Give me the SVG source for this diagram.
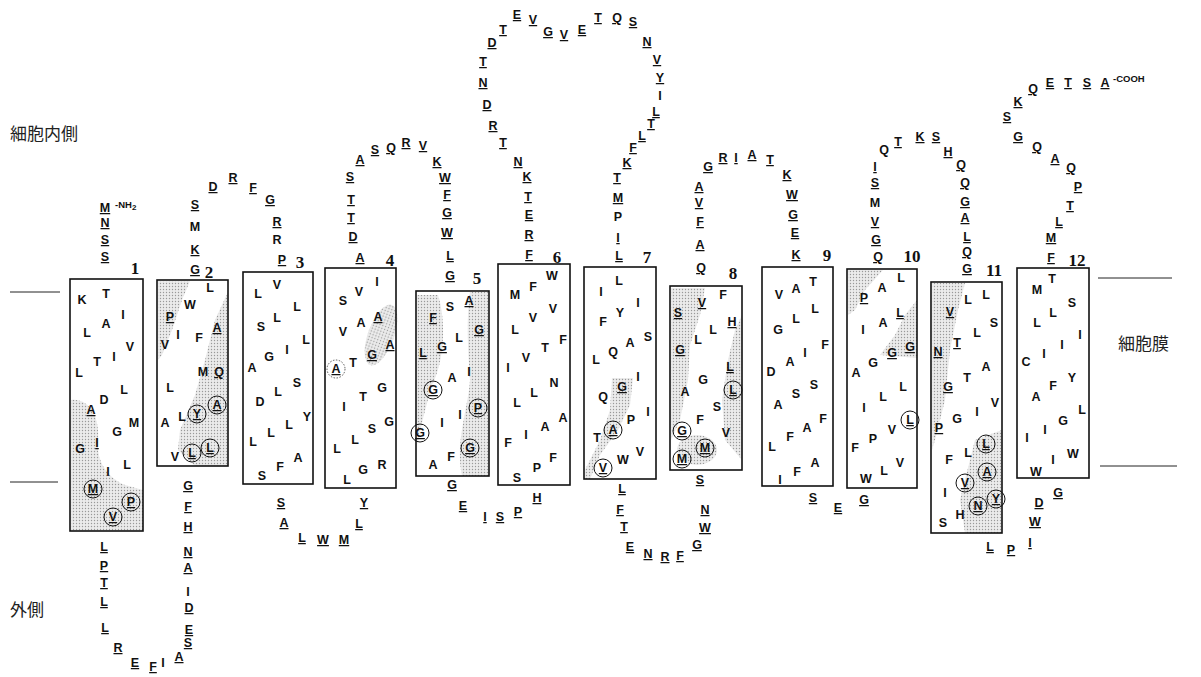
<svg xmlns="http://www.w3.org/2000/svg" width="1201" height="677" viewBox="0 0 1201 677">
<style>
.a{font-family:"Liberation Sans",Arial,sans-serif;font-size:12.5px;font-weight:bold;text-anchor:middle;fill:#111}
.u{text-decoration:underline}
.n{font-family:"Liberation Serif","Times New Roman",serif;font-size:17px;font-weight:bold;text-anchor:middle;fill:#111}
.s{font-family:"Liberation Sans",Arial,sans-serif;font-size:9.5px;font-weight:bold;fill:#111}
.j{font-family:"Noto Sans CJK JP","Noto Sans CJK SC",sans-serif;font-size:17px;fill:#222}
.box{fill:none;stroke:#111;stroke-width:1.6}
.c{fill:none;stroke:#111;stroke-width:1}
.cd{fill:none;stroke:#555;stroke-width:1;stroke-dasharray:1.5 1.5}
.sh{fill:url(#st);stroke:none}
.mem{stroke:#222;stroke-width:1}
</style>
<defs>
<pattern id="st" width="3" height="3" patternUnits="userSpaceOnUse"><rect width="3" height="3" fill="#ebebeb"/><circle cx="1.5" cy="1.5" r="0.7" fill="#999"/></pattern>
</defs>
<rect width="1201" height="677" fill="#fff"/>

<g id="labels">
<text class="j" x="10" y="140">細胞内側</text>
<text class="j" x="1118" y="350">細胞膜</text>
<text class="j" x="10" y="616">外側</text>
</g>

<g id="membrane">
<line class="mem" x1="10" y1="292" x2="60" y2="292"/>
<line class="mem" x1="10" y1="482" x2="58" y2="482"/>
<line class="mem" x1="1098" y1="278" x2="1172" y2="278"/>
<line class="mem" x1="1100" y1="466" x2="1177" y2="466"/>
</g>

<g id="connectors"></g>

<g id="shading">
<path class="sh" d="M71,400 C88,398 100,415 98,440 C96,462 108,478 125,485 L143,490 L143,531 L71,531 Z"/>
<path class="sh" d="M158,281 L190,281 L182,300 L172,330 L162,355 L158,360 Z"/>
<path class="sh" d="M228,292 L215,320 L205,360 L195,395 L180,430 L178,450 L195,466 L228,466 Z"/>
<ellipse class="sh" cx="381" cy="335" rx="13" ry="32" transform="rotate(20 381 335)"/>
<path class="sh" d="M417,295 L438,295 C446,320 445,360 432,385 C425,410 420,430 417,445 Z"/>
<path class="sh" d="M470,292 L489,292 L489,476 L462,476 C455,440 468,410 470,380 C468,350 466,320 470,292 Z"/>
<path class="sh" d="M612,378 L633,378 L630,405 L618,430 L600,455 L590,479 L585,479 L585,470 L600,440 L610,410 Z"/>
<path class="sh" d="M671,288 L705,288 L700,315 L690,345 L688,380 L680,420 L671,440 Z"/>
<path class="sh" d="M742,315 L735,330 L728,360 L722,400 L725,440 L742,460 Z"/>
<ellipse class="sh" cx="697" cy="450" rx="20" ry="15"/>
<path class="sh" d="M848,270 L883,270 L865,290 L855,310 L848,315 Z"/>
<path class="sh" d="M917,300 L905,315 L895,335 L880,355 L917,358 Z"/>
<path class="sh" d="M932,283 L965,283 L958,310 L950,350 L945,400 L935,440 L932,450 Z"/>
<path class="sh" d="M975,440 L1002,430 L1002,533 L965,533 L960,500 Z"/>
</g>

<g id="h1">
<text class="a u" x="105" y="212">M</text><text class="s" x="115" y="208">-NH<tspan font-size="8" dy="2">2</tspan></text>
<text class="a u" x="105" y="227">N</text><text class="a u" x="105" y="244">S</text><text class="a u" x="105" y="261">S</text>
<text class="n" x="135" y="274">1</text>
<rect class="box" x="70" y="279" width="73" height="252"/>
<text class="a" x="82" y="304">K</text><text class="a" x="106" y="298">T</text><text class="a" x="123" y="319">I</text><text class="a" x="106" y="328">A</text><text class="a" x="87" y="337">L</text><text class="a" x="130" y="351">V</text><text class="a" x="97" y="366">T</text><text class="a" x="114" y="361">I</text><text class="a" x="79" y="377">L</text><text class="a" x="124" y="394">L</text><text class="a" x="104" y="404">D</text><text class="a u" x="91" y="414">A</text><text class="a" x="134" y="427">M</text><text class="a" x="117" y="436">G</text><text class="a u" x="97" y="447">I</text><text class="a" x="80" y="453">G</text><text class="a" x="127" y="469">L</text><text class="a" x="108" y="476">I</text>
<text class="a u" x="93" y="493">M</text><circle class="c" cx="93" cy="489" r="9"/>
<text class="a u" x="131" y="506">P</text><circle class="c" cx="131" cy="502" r="9"/>
<text class="a u" x="113" y="521">V</text><circle class="c" cx="113" cy="517" r="9"/>
</g>

<g id="loop1">
<text class="a u" x="104" y="551">L</text><text class="a u" x="104" y="570">P</text><text class="a u" x="104" y="587">T</text><text class="a u" x="104" y="606">L</text><text class="a u" x="105" y="632">L</text><text class="a u" x="118" y="652">R</text><text class="a u" x="135" y="667">E</text><text class="a u" x="153" y="671">F</text><text class="a" x="163" y="667">I</text><text class="a u" x="179" y="661">A</text><text class="a u" x="188" y="647">S</text><text class="a u" x="189" y="634">E</text><text class="a u" x="189" y="612">D</text><text class="a" x="188" y="596">I</text><text class="a u" x="188" y="572">A</text><text class="a u" x="188" y="556">N</text><text class="a u" x="188" y="531">H</text><text class="a u" x="188" y="511">F</text><text class="a u" x="188" y="490">G</text>
</g>

<g id="h2">
<text class="n" x="209" y="278">2</text>
<rect class="box" x="157" y="280" width="71" height="186"/>
<text class="a" x="210" y="292">L</text><text class="a" x="190" y="309">W</text><text class="a u" x="170" y="321">P</text><text class="a u" x="217" y="332">A</text><text class="a" x="178" y="339">I</text><text class="a" x="199" y="342">F</text><text class="a" x="165" y="349">V</text><text class="a" x="203" y="376">M</text><text class="a u" x="219" y="376">Q</text><text class="a" x="170" y="392">L</text><text class="a" x="182" y="421">L</text><text class="a" x="165" y="427">A</text>
<text class="a u" x="197" y="418">Y</text><circle class="c" cx="197" cy="414" r="9"/>
<text class="a u" x="217" y="409">A</text><circle class="c" cx="217" cy="405" r="9"/>
<text class="a" x="175" y="461">V</text>
<text class="a u" x="192" y="457">L</text><circle class="c" cx="192" cy="453" r="9"/>
<text class="a u" x="210" y="452">L</text><circle class="c" cx="210" cy="448" r="9"/>
</g>

<g id="loop2">
<text class="a u" x="195" y="274">G</text><text class="a u" x="195" y="254">K</text><text class="a" x="195" y="231">M</text><text class="a u" x="195" y="209">S</text><text class="a u" x="213" y="191">D</text><text class="a u" x="233" y="182">R</text><text class="a u" x="253" y="192">F</text><text class="a u" x="270" y="204">G</text><text class="a u" x="277" y="226">R</text><text class="a" x="277" y="244">R</text><text class="a u" x="282" y="264">P</text>
</g>

<g id="h3">
<text class="n" x="300" y="268">3</text>
<rect class="box" x="243" y="272" width="70" height="212"/>
<text class="a" x="277" y="289">V</text><text class="a" x="258" y="298">L</text><text class="a" x="297" y="311">L</text><text class="a" x="277" y="322">L</text><text class="a" x="261" y="331">S</text><text class="a" x="306" y="344">L</text><text class="a" x="287" y="354">I</text><text class="a" x="269" y="361">G</text><text class="a" x="252" y="372">A</text><text class="a" x="297" y="387">S</text><text class="a" x="278" y="396">L</text><text class="a" x="260" y="406">D</text><text class="a" x="307" y="421">Y</text><text class="a" x="289" y="429">L</text><text class="a" x="271" y="437">L</text><text class="a" x="253" y="446">L</text><text class="a" x="298" y="462">A</text><text class="a" x="280" y="471">F</text><text class="a" x="262" y="480">S</text>
</g>

<g id="loop3">
<text class="a u" x="281" y="507">S</text><text class="a u" x="284" y="527">A</text><text class="a u" x="302" y="542">L</text><text class="a u" x="323" y="544">W</text><text class="a u" x="344" y="544">M</text><text class="a u" x="359" y="528">L</text><text class="a u" x="364" y="507">Y</text>
</g>

<g id="h4">
<text class="n" x="390" y="266">4</text>
<rect class="box" x="325" y="268" width="71" height="220"/>
<text class="a" x="377" y="286">I</text><text class="a" x="359" y="296">V</text><text class="a" x="343" y="305">S</text><text class="a u" x="378" y="321">A</text><text class="a" x="361" y="327">A</text><text class="a" x="343" y="336">V</text><text class="a u" x="390" y="349">A</text><text class="a u" x="372" y="359">G</text><text class="a" x="353" y="367">T</text>
<text class="a u" x="336" y="373">A</text><circle class="cd" cx="336" cy="369" r="9"/>
<text class="a" x="382" y="392">G</text><text class="a" x="363" y="401">T</text><text class="a" x="344" y="411">I</text><text class="a" x="389" y="426">G</text><text class="a" x="372" y="433">S</text><text class="a" x="355" y="444">L</text><text class="a" x="337" y="453">L</text><text class="a" x="382" y="469">R</text><text class="a" x="363" y="474">G</text><text class="a" x="347" y="484">L</text>
</g>

<g id="loop4">
<text class="a u" x="360" y="262">A</text><text class="a u" x="353" y="241">D</text><text class="a u" x="351" y="222">T</text><text class="a u" x="351" y="204">T</text><text class="a u" x="350" y="181">S</text><text class="a u" x="360" y="164">A</text><text class="a u" x="375" y="154">S</text><text class="a u" x="391" y="152">Q</text><text class="a u" x="406" y="147">R</text><text class="a u" x="423" y="150">V</text><text class="a u" x="437" y="166">K</text><text class="a u" x="445" y="182">W</text><text class="a u" x="447" y="199">F</text><text class="a u" x="447" y="217">G</text><text class="a u" x="447" y="237">W</text><text class="a u" x="450" y="260">L</text><text class="a u" x="450" y="280">G</text>
</g>

<g id="h5">
<text class="n" x="477" y="284">5</text>
<rect class="box" x="416" y="291" width="73" height="185"/>
<text class="a" x="450" y="311">S</text><text class="a u" x="469" y="305">A</text><text class="a u" x="433" y="322">F</text><text class="a u" x="479" y="334">G</text><text class="a" x="459" y="342">L</text><text class="a u" x="442" y="351">G</text><text class="a u" x="423" y="357">L</text><text class="a" x="469" y="376">I</text><text class="a" x="452" y="382">A</text>
<text class="a u" x="433" y="394">G</text><circle class="c" cx="433" cy="390" r="9"/>
<text class="a u" x="478" y="412">P</text><circle class="c" cx="478" cy="408" r="9"/>
<text class="a" x="460" y="419">I</text><text class="a" x="442" y="427">I</text>
<text class="a u" x="420" y="437">G</text><circle class="c" cx="420" cy="433" r="9"/>
<text class="a u" x="470" y="452">G</text><circle class="c" cx="470" cy="448" r="9"/>
<text class="a" x="451" y="461">F</text><text class="a" x="433" y="469">A</text>
</g>

<g id="loop5">
<text class="a u" x="452" y="489">G</text><text class="a u" x="463" y="510">E</text><text class="a u" x="485" y="521">I</text><text class="a u" x="500" y="521">S</text><text class="a u" x="518" y="516">P</text><text class="a u" x="537" y="502">H</text>
</g>

<g id="h6">
<text class="n" x="557" y="263">6</text>
<rect class="box" x="498" y="264" width="72" height="221"/>
<text class="a" x="515" y="299">M</text><text class="a" x="533" y="291">F</text><text class="a" x="552" y="280">W</text><text class="a" x="533" y="322">V</text><text class="a" x="553" y="313">V</text><text class="a" x="515" y="334">L</text><text class="a" x="563" y="344">F</text><text class="a" x="545" y="352">T</text><text class="a" x="526" y="362">V</text><text class="a" x="508" y="372">I</text><text class="a" x="554" y="387">N</text><text class="a" x="534" y="397">L</text><text class="a" x="517" y="407">L</text><text class="a" x="563" y="422">A</text><text class="a" x="545" y="431">A</text><text class="a" x="526" y="439">I</text><text class="a" x="508" y="447">F</text><text class="a" x="553" y="462">F</text><text class="a" x="537" y="472">P</text><text class="a" x="517" y="482">S</text>
</g>

<g id="loop6">
<text class="a u" x="529" y="259">F</text><text class="a u" x="529" y="239">R</text><text class="a u" x="529" y="219">E</text><text class="a u" x="528" y="201">T</text><text class="a u" x="527" y="181">K</text><text class="a u" x="518" y="166">N</text><text class="a u" x="503" y="147">T</text><text class="a u" x="493" y="130">R</text><text class="a u" x="487" y="109">D</text><text class="a u" x="483" y="87">N</text><text class="a u" x="483" y="66">T</text><text class="a u" x="492" y="47">D</text><text class="a u" x="503" y="34">T</text><text class="a u" x="517" y="19">E</text><text class="a u" x="533" y="24">V</text><text class="a u" x="548" y="36">G</text><text class="a u" x="564" y="39">V</text><text class="a u" x="582" y="34">E</text><text class="a u" x="598" y="22">T</text><text class="a u" x="617" y="22">Q</text><text class="a u" x="633" y="26">S</text><text class="a u" x="647" y="46">N</text><text class="a u" x="657" y="64">V</text><text class="a u" x="660" y="82">Y</text><text class="a" x="660" y="100">I</text><text class="a u" x="656" y="116">L</text><text class="a u" x="651" y="128">T</text><text class="a u" x="642" y="140">L</text><text class="a u" x="633" y="152">F</text><text class="a u" x="627" y="167">K</text><text class="a u" x="617" y="182">T</text><text class="a u" x="618" y="202">M</text><text class="a" x="618" y="221">P</text><text class="a u" x="618" y="242">I</text><text class="a u" x="619" y="260">L</text>
</g>

<g id="h7">
<text class="n" x="647" y="263">7</text>
<rect class="box" x="584" y="267" width="72" height="212"/>
<text class="a" x="619" y="285">L</text><text class="a" x="601" y="296">I</text><text class="a" x="638" y="307">I</text><text class="a" x="620" y="317">Y</text><text class="a" x="603" y="326">F</text><text class="a" x="648" y="341">S</text><text class="a" x="630" y="347">A</text><text class="a" x="613" y="356">Q</text><text class="a" x="596" y="364">L</text><text class="a" x="638" y="381">I</text><text class="a u" x="622" y="391">G</text><text class="a" x="603" y="401">Q</text><text class="a" x="648" y="416">I</text><text class="a" x="631" y="424">P</text>
<text class="a u" x="613" y="434">A</text><circle class="c" cx="613" cy="430" r="9"/>
<text class="a" x="597" y="442">T</text><text class="a" x="640" y="456">V</text><text class="a" x="623" y="464">W</text>
<text class="a u" x="603" y="472">V</text><circle class="c" cx="603" cy="468" r="9"/>
</g>

<g id="loop7">
<text class="a u" x="622" y="493">L</text><text class="a u" x="620" y="514">F</text><text class="a u" x="624" y="531">T</text><text class="a u" x="630" y="551">E</text><text class="a u" x="648" y="558">N</text><text class="a u" x="665" y="561">R</text><text class="a u" x="680" y="560">F</text><text class="a u" x="697" y="549">G</text><text class="a u" x="705" y="532">W</text><text class="a u" x="705" y="514">N</text><text class="a u" x="700" y="484">S</text>
</g>

<g id="h8">
<text class="n" x="733" y="279">8</text>
<rect class="box" x="670" y="286" width="72" height="184"/>
<text class="a" x="723" y="299">F</text><text class="a u" x="702" y="307">V</text><text class="a u" x="678" y="317">S</text><text class="a u" x="732" y="326">H</text><text class="a" x="713" y="334">L</text><text class="a" x="698" y="344">L</text><text class="a u" x="680" y="354">G</text><text class="a u" x="730" y="371">L</text><text class="a" x="703" y="384">G</text><text class="a" x="685" y="396">A</text>
<text class="a u" x="733" y="394">L</text><circle class="c" cx="733" cy="390" r="9"/>
<text class="a" x="717" y="411">S</text><text class="a" x="700" y="424">F</text>
<text class="a u" x="682" y="435">G</text><circle class="c" cx="682" cy="431" r="9"/>
<text class="a" x="726" y="437">V</text>
<text class="a u" x="705" y="452">M</text><circle class="c" cx="705" cy="448" r="9"/>
<text class="a u" x="682" y="463">M</text><circle class="c" cx="682" cy="459" r="9"/>
</g>

<g id="loop8">
<text class="a u" x="701" y="272">Q</text><text class="a u" x="700" y="249">A</text><text class="a u" x="700" y="226">F</text><text class="a u" x="699" y="207">V</text><text class="a u" x="699" y="191">A</text><text class="a u" x="708" y="171">G</text><text class="a u" x="723" y="162">R</text><text class="a u" x="736" y="162">I</text><text class="a u" x="752" y="159">A</text><text class="a u" x="770" y="164">T</text><text class="a u" x="787" y="179">K</text><text class="a u" x="792" y="199">W</text><text class="a u" x="793" y="219">G</text><text class="a u" x="795" y="237">E</text><text class="a u" x="796" y="259">K</text>
</g>

<g id="h9">
<text class="n" x="827" y="261">9</text>
<rect class="box" x="762" y="267" width="71" height="219"/>
<text class="a" x="813" y="286">T</text><text class="a" x="796" y="293">A</text><text class="a" x="779" y="299">V</text><text class="a" x="815" y="313">L</text><text class="a" x="796" y="323">L</text><text class="a" x="778" y="334">G</text><text class="a" x="825" y="349">F</text><text class="a" x="805" y="357">I</text><text class="a" x="790" y="366">A</text><text class="a" x="771" y="376">D</text><text class="a" x="814" y="389">S</text><text class="a" x="796" y="398">S</text><text class="a" x="778" y="409">A</text><text class="a" x="823" y="423">F</text><text class="a" x="807" y="432">A</text><text class="a" x="790" y="441">F</text><text class="a" x="772" y="451">L</text><text class="a" x="815" y="467">A</text><text class="a" x="797" y="476">F</text><text class="a" x="780" y="484">I</text>
</g>

<g id="loop9">
<text class="a u" x="813" y="502">S</text><text class="a u" x="838" y="512">E</text><text class="a u" x="864" y="504">G</text>
</g>

<g id="h10">
<text class="n" x="912" y="262">10</text>
<rect class="box" x="847" y="269" width="70" height="219"/>
<text class="a" x="901" y="282">L</text><text class="a" x="882" y="292">A</text><text class="a u" x="864" y="302">P</text><text class="a u" x="900" y="317">L</text><text class="a" x="883" y="327">A</text><text class="a" x="863" y="334">I</text><text class="a u" x="910" y="351">G</text><text class="a u" x="892" y="357">G</text><text class="a" x="873" y="367">G</text><text class="a" x="856" y="377">A</text><text class="a" x="903" y="391">L</text><text class="a" x="883" y="401">L</text><text class="a" x="864" y="412">I</text>
<text class="a u" x="910" y="424">L</text><circle class="c" cx="910" cy="420" r="9"/>
<text class="a" x="892" y="434">V</text><text class="a" x="873" y="443">P</text><text class="a" x="855" y="452">F</text><text class="a" x="900" y="467">V</text><text class="a" x="884" y="475">L</text><text class="a" x="866" y="483">W</text>
</g>

<g id="loop10">
<text class="a u" x="878" y="261">Q</text><text class="a u" x="876" y="244">G</text><text class="a u" x="875" y="226">V</text><text class="a" x="875" y="207">M</text><text class="a u" x="875" y="187">S</text><text class="a u" x="875" y="171">I</text><text class="a" x="884" y="154">Q</text><text class="a u" x="898" y="146">T</text><text class="a u" x="920" y="141">K</text><text class="a u" x="936" y="141">S</text><text class="a u" x="948" y="156">H</text><text class="a u" x="961" y="169">Q</text><text class="a u" x="965" y="187">Q</text><text class="a u" x="965" y="206">G</text><text class="a u" x="965" y="222">A</text><text class="a u" x="967" y="241">L</text><text class="a u" x="967" y="256">Q</text><text class="a u" x="967" y="273">G</text>
</g>

<g id="h11">
<text class="n" x="994" y="276">11</text>
<rect class="box" x="931" y="282" width="71" height="251"/>
<text class="a" x="986" y="299">L</text><text class="a" x="968" y="304">L</text><text class="a u" x="950" y="316">V</text><text class="a" x="994" y="327">S</text><text class="a" x="977" y="337">L</text><text class="a u" x="957" y="347">T</text><text class="a u" x="938" y="356">N</text><text class="a" x="986" y="371">A</text><text class="a" x="967" y="382">T</text><text class="a u" x="948" y="391">G</text><text class="a" x="995" y="407">V</text><text class="a" x="977" y="416">I</text><text class="a" x="957" y="423">G</text><text class="a u" x="939" y="432">P</text>
<text class="a u" x="986" y="448">L</text><circle class="c" cx="986" cy="444" r="9"/>
<text class="a" x="968" y="457">L</text><text class="a" x="949" y="464">F</text>
<text class="a u" x="987" y="476">A</text><circle class="c" cx="987" cy="472" r="9"/>
<text class="a u" x="965" y="487">V</text><circle class="c" cx="965" cy="483" r="9"/>
<text class="a" x="945" y="497">I</text>
<text class="a u" x="996" y="503">Y</text><circle class="c" cx="996" cy="499" r="9"/>
<text class="a u" x="978" y="510">N</text><circle class="c" cx="978" cy="506" r="9"/>
<text class="a" x="960" y="519">H</text><text class="a" x="943" y="527">S</text>
</g>

<g id="loop11">
<text class="a u" x="990" y="551">L</text><text class="a u" x="1011" y="554">P</text><text class="a u" x="1030" y="547">I</text><text class="a u" x="1035" y="526">W</text><text class="a u" x="1039" y="507">D</text><text class="a u" x="1058" y="497">G</text>
</g>

<g id="h12">
<text class="n" x="1077" y="266">12</text>
<rect class="box" x="1017" y="268" width="72" height="210"/>
<text class="a" x="1052" y="283">T</text><text class="a" x="1037" y="294">M</text><text class="a" x="1072" y="307">S</text><text class="a" x="1053" y="317">L</text><text class="a" x="1037" y="327">L</text><text class="a" x="1080" y="339">I</text><text class="a" x="1062" y="349">I</text><text class="a" x="1044" y="358">I</text><text class="a" x="1026" y="366">C</text><text class="a" x="1072" y="382">Y</text><text class="a" x="1053" y="390">F</text><text class="a" x="1036" y="401">A</text><text class="a" x="1082" y="414">L</text><text class="a" x="1063" y="425">G</text><text class="a" x="1045" y="434">I</text><text class="a" x="1027" y="442">I</text><text class="a" x="1073" y="458">W</text><text class="a" x="1053" y="464">I</text><text class="a" x="1036" y="476">W</text>
</g>

<g id="cterm">
<text class="a u" x="1051" y="262">F</text><text class="a u" x="1051" y="242">M</text><text class="a u" x="1059" y="226">L</text><text class="a u" x="1070" y="210">T</text><text class="a u" x="1078" y="191">P</text><text class="a u" x="1071" y="172">Q</text><text class="a u" x="1055" y="163">A</text><text class="a u" x="1037" y="151">Q</text><text class="a u" x="1018" y="141">G</text><text class="a u" x="1007" y="121">S</text><text class="a u" x="1018" y="106">K</text><text class="a u" x="1033" y="93">Q</text><text class="a u" x="1050" y="87">E</text><text class="a u" x="1068" y="87">T</text><text class="a u" x="1087" y="87">S</text><text class="a u" x="1105" y="87">A</text>
<text class="s" x="1113" y="82">-COOH</text>
</g>
</svg>
